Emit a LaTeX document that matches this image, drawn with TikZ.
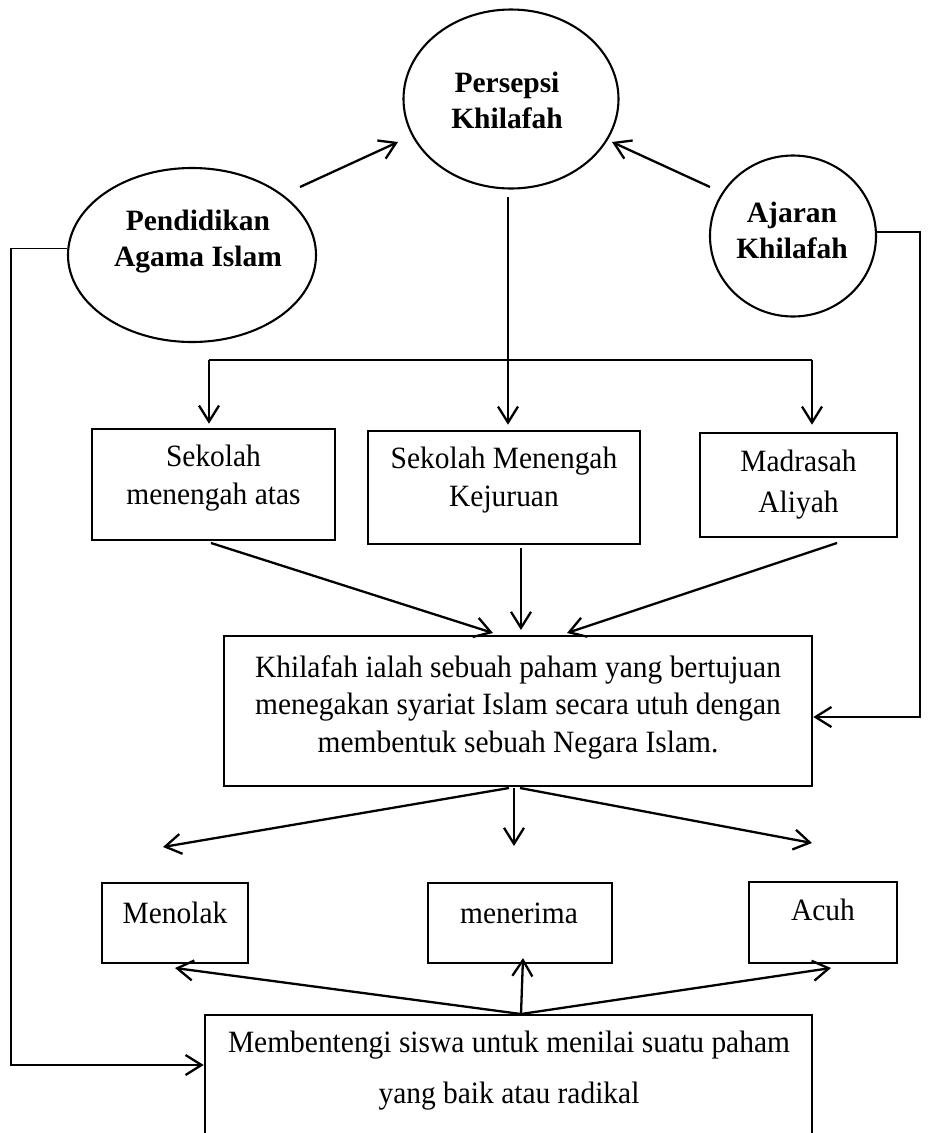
\documentclass[tikz,border=0pt]{standalone}
\usepackage{fontspec}
\setmainfont{Liberation Serif}
\newfontfamily\regfont[FakeStretch=0.95]{Liberation Serif}
\usetikzlibrary{arrows.meta,shapes.geometric}
\begin{document}
\begin{tikzpicture}[x=1pt,y=-1pt,
  ln/.style={line width=2.3pt},
  thinln/.style={line width=1.5pt},
  arr/.style={line width=2.3pt,-{Straight Barb[length=16pt,width=20pt,line width=2.3pt]}},
  oval/.style={draw,ellipse,line width=2.1pt,inner sep=0pt},
  box/.style={draw,line width=2.6pt,inner sep=0pt},
  lbl/.style={font=\regfont\fontsize{31}{38}\selectfont,align=center,inner sep=0pt},
  blbl/.style={font=\fontsize{29.5}{36}\selectfont\bfseries,align=center,inner sep=0pt}]
\useasboundingbox (0,0) rectangle (928,1133);
% ellipses
\node[oval,minimum width=215pt,minimum height=179pt] (pers) at (511,99) {};
\node[blbl] (tpers) at (507,100) {Persepsi\\Khilafah};
\node[oval,minimum width=248pt,minimum height=174pt] (pend) at (192,255) {};
\node[blbl] (tpend) at (198,242) {Pendidikan\\Agama Islam};
\node[oval,minimum width=166pt,minimum height=161pt] (ajar) at (793,236) {};
\node[blbl] (tajar) at (792,230) {Ajaran\\Khilafah};
% school boxes
\node[box,minimum width=243pt,minimum height=111pt] (b1) at (213.5,484.5) {};
\node[lbl] (tb1) at (213.5,478) {Sekolah\\menengah atas};
\node[box,minimum width=272pt,minimum height=113pt] (b2) at (504,487.5) {};
\node[lbl] (tb2) at (504,480) {Sekolah Menengah\\Kejuruan};
\node[box,minimum width=197pt,minimum height=104pt] (b3) at (798.5,485) {};
\node[lbl,font=\regfont\fontsize{31}{41}\selectfont] (tb3) at (798.5,485) {Madrasah\\Aliyah};
% main box
\node[box,minimum width=588pt,minimum height=150pt] (main) at (518,711) {};
\node[lbl,font=\regfont\fontsize{31}{37.5}\selectfont] (tmain) at (518,707) {Khilafah ialah sebuah paham yang bertujuan\\menegakan syariat Islam secara utuh dengan\\membentuk sebuah Negara Islam.};
% outcome boxes
\node[box,minimum width=146pt,minimum height=80pt] (tolak) at (175,923) {};
\node[lbl] (ttolak) at (175,913) {Menolak};
\node[box,minimum width=184pt,minimum height=80pt] (terima) at (520,923) {};
\node[lbl] (tterima) at (519,913) {menerima};
\node[box,minimum width=148pt,minimum height=81pt] (acuh) at (823,922.5) {};
\node[lbl] (tacuh) at (823,910) {Acuh};
% bottom box
\node[box,minimum width=607pt,minimum height=125pt] (bot) at (508.5,1077.5) {};
\node[lbl,font=\regfont\fontsize{31}{51}\selectfont] (tbot) at (509,1071) {Membentengi siswa untuk menilai suatu paham\\yang baik atau radikal};
% coordinates
\coordinate (a1s) at (300,187); \coordinate (a1e) at (398,142);
\coordinate (a2s) at (710,187); \coordinate (a2e) at (612,142);
\coordinate (stemtop) at (508,197); \coordinate (split) at (508,360);
\coordinate (hl) at (209,360); \coordinate (hr) at (812,360);
\coordinate (m1s) at (211,543); \coordinate (m1e) at (493,633);
\coordinate (m2s) at (521,548); \coordinate (m2e) at (521,630);
\coordinate (m3s) at (837,543); \coordinate (m3e) at (567,633);
\coordinate (o1) at (509,788); \coordinate (o1e) at (163,847);
\coordinate (o2) at (514,788); \coordinate (o2e) at (514,846);
\coordinate (o3) at (520,788); \coordinate (o3e) at (812,843);
\coordinate (u) at (521,1014);
\coordinate (u1e) at (175,968); \coordinate (u2e) at (523,958); \coordinate (u3e) at (831,968);
\coordinate (rr) at (920,717); \coordinate (ll) at (11,1065);
% connectors
\draw[arr] (a1s) -- (a1e);
\draw[arr] (a2s) -- (a2e);
\draw[thinln] (stemtop) -- (split);
\draw[ln] (hl) -- (hr);
\draw[arr,shorten >=4pt] (hl) -- (hl |- b1.north);
\draw[arr,shorten >=5pt] (split) -- (split |- b2.north);
\draw[arr,shorten >=7pt] (hr) -- (hr |- b3.north);
\draw[arr] (m1s) -- (m1e);
\draw[arr] (m2s) -- (m2e);
\draw[arr] (m3s) -- (m3e);
\draw[arr] (o1) -- (o1e);
\draw[thinln,-{Straight Barb[length=16pt,width=20pt,line width=2.3pt]}] (o2) -- (o2e);
\draw[arr] (o3) -- (o3e);
\draw[arr] (u) -- (u1e);
\draw[arr] (u) -- (u2e);
\draw[arr] (u) -- (u3e);
\draw[arr,line width=1.8pt] (ajar.3) -- (ajar.3 -| rr) -- (rr) -- (main.east |- rr);
\draw[arr,line width=1.8pt] (pend.177) -- (pend.177 -| ll) -- (ll) -- (bot.west |- ll);
\end{tikzpicture}
\end{document}
